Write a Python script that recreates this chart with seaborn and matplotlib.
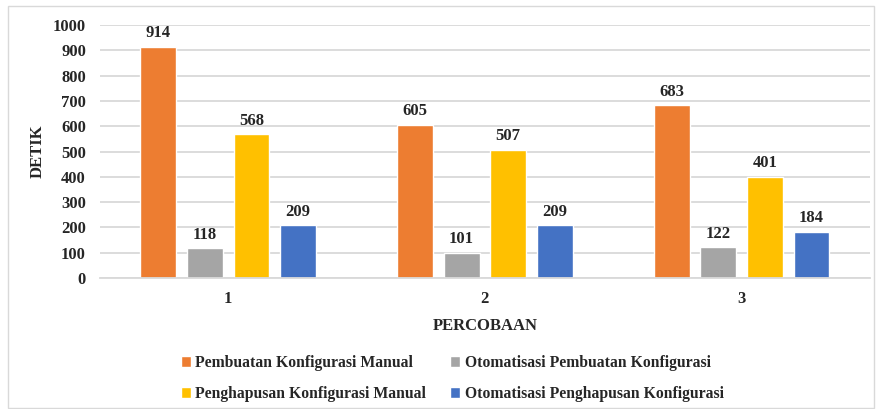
import matplotlib
matplotlib.use("Agg")
import matplotlib.pyplot as plt
import seaborn as sns
import pandas as pd
from matplotlib.patches import Rectangle

percobaan = ["1", "2", "3"]
series_names = [
    "Pembuatan Konfigurasi Manual",
    "Otomatisasi Pembuatan Konfigurasi",
    "Penghapusan Konfigurasi Manual",
    "Otomatisasi Penghapusan Konfigurasi",
]
pembuatan_manual = [914, 605, 683]
otomatisasi_pembuatan = [118, 101, 122]
penghapusan_manual = [568, 507, 401]
otomatisasi_penghapusan = [209, 209, 184]
colors = ["#ED7D31", "#A5A5A5", "#FFC000", "#4472C4"]

values = [pembuatan_manual, otomatisasi_pembuatan, penghapusan_manual, otomatisasi_penghapusan]
rows = []
for name, vals in zip(series_names, values):
    for p, v in zip(percobaan, vals):
        rows.append({"Percobaan": p, "Seri": name, "Detik": v})
df = pd.DataFrame(rows)

sns.set_theme(style="white")
plt.rcParams["font.family"] = ["Liberation Serif", "DejaVu Serif"]
plt.rcParams["font.weight"] = "bold"

fig = plt.figure(figsize=(8.76, 4.09), dpi=100)
ax = fig.add_axes([0.114, 0.320, 0.879, 0.619])

sns.barplot(data=df, x="Percobaan", y="Detik", hue="Seri", hue_order=series_names,
            order=percobaan, palette=colors, width=0.727, gap=0.23, saturation=1,
            ax=ax, legend=True)

ax.set_ylim(0, 1000)
ax.set_yticks(range(0, 1001, 100))
ax.yaxis.grid(True, color="#D9D9D9", linewidth=1.3)
ax.set_axisbelow(True)
for s in ["top", "right", "left"]:
    ax.spines[s].set_visible(False)
ax.spines["bottom"].set_color("#D9D9D9")
ax.spines["bottom"].set_linewidth(1.3)
ax.tick_params(axis="y", length=0, labelsize=12, pad=10)
ax.tick_params(axis="x", length=0, labelsize=12, pad=9)
for lab in ax.get_xticklabels() + ax.get_yticklabels():
    lab.set_fontweight("bold")

for cont in ax.containers:
    ax.bar_label(cont, padding=4, fontsize=12, fontweight="bold")

ax.set_xlabel("PERCOBAAN", fontsize=12, fontweight="bold", labelpad=8)
ax.set_ylabel("DETIK", fontsize=12, fontweight="bold", labelpad=5)

handles, labels = ax.get_legend_handles_labels()
ax.get_legend().remove()
order = [0, 2, 1, 3]
fig.legend([handles[i] for i in order], [labels[i] for i in order],
           loc="center left", bbox_to_anchor=(0.190, 0.075), ncol=2, frameon=False,
           prop={"size": 11.3, "weight": "bold"}, handlelength=0.65, handleheight=0.65,
           handletextpad=0.3, columnspacing=1.5, labelspacing=0.95)

fig.patches.append(Rectangle((8 / 876, 1 / 409), 866 / 876, 402 / 409,
                             transform=fig.transFigure, fill=False,
                             edgecolor="#D9D9D9", linewidth=1))

fig.savefig("out.png", dpi=100)
